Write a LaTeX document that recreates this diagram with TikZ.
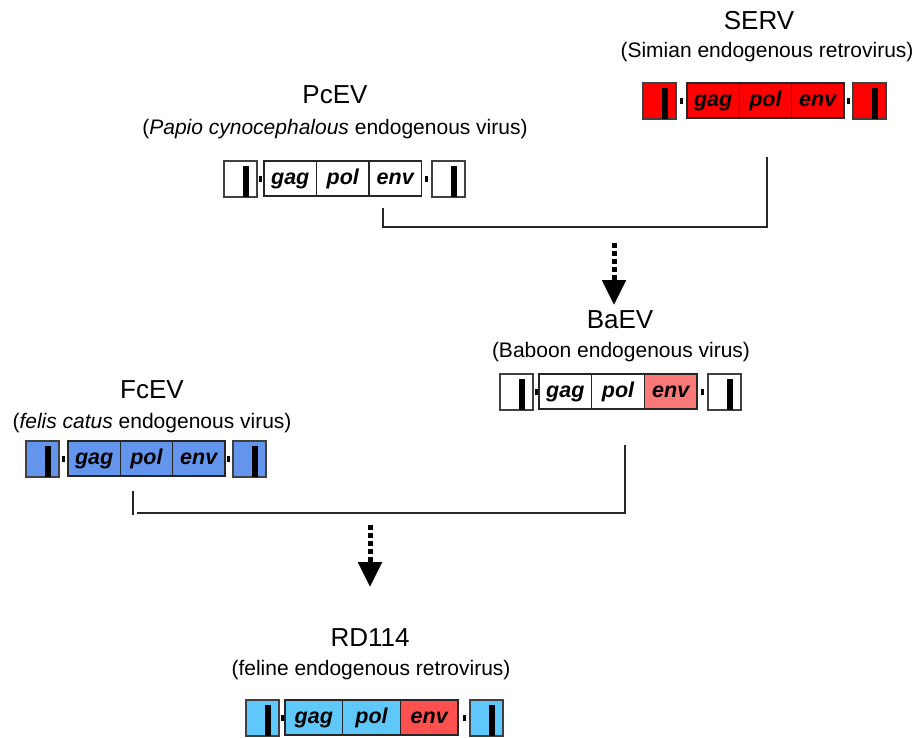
\documentclass[tikz,border=0pt]{standalone}
\usepackage{fontspec}
\setmainfont{Liberation Sans}
\usetikzlibrary{calc,arrows.meta}
\definecolor{servred}{HTML}{FF0000}
\definecolor{baenv}{HTML}{FA7878}
\definecolor{fcblue}{HTML}{6495ED}
\definecolor{rdblue}{HTML}{5EC8FA}
\definecolor{rdenv}{HTML}{FF5050}
\tikzset{
  ltrbox/.style={draw=black!75, line width=1.4pt, minimum width=33pt, minimum height=36pt, inner sep=0pt, outer sep=0pt, anchor=north west},
  cell/.style={draw=black!85, line width=1.4pt, minimum height=35pt, inner sep=0pt, outer sep=0pt, anchor=north west,
     font=\fontsize{21.5pt}{24pt}\selectfont\bfseries\itshape, text height=11pt, text depth=0pt},
  title/.style={anchor=base, inner sep=0pt, font=\fontsize{26pt}{29pt}\selectfont},
  subtitle/.style={anchor=base, inner sep=0pt, font=\fontsize{21pt}{24pt}\selectfont},
  bracket/.style={line width=1.8pt, draw=black!85},
  dotarrow/.style={line width=5pt, dash pattern=on 5pt off 3pt, -{Triangle[width=23pt,length=25pt]}}
}
% #1 name, #2 left box x, #3 top y, #4 main x, #5 cell width, #6 right box x, #7 ltr fill, #8 gag/pol fill, #9 env fill
\newcommand{\genome}[9]{%
  \node[ltrbox, fill=#7] (#1L) at (#2,#3) {};
  \node[cell, fill=#8, minimum width=#5pt] (#1gag) at (#4,#3) {gag};
  \node[cell, fill=#8, minimum width=#5pt] (#1pol) at (#1gag.north east) {pol};
  \node[cell, fill=#9, minimum width=#5pt] (#1env) at (#1pol.north east) {env};
  \node[ltrbox, fill=#7] (#1R) at (#6,#3) {};
  \fill ([xshift=19pt,yshift=-5pt]#1L.north west) rectangle ([xshift=24.5pt]#1L.south west);
  \fill ([xshift=19pt,yshift=-5pt]#1R.north west) rectangle ([xshift=24.5pt]#1R.south west);
  \fill ($(#1L.east)!0.5!(#1gag.west)$) +(-1.5,-3) rectangle +(1.5,3);
  \fill ($(#1env.east)!0.5!(#1R.west)$) +(-1.5,-3) rectangle +(1.5,3);
}
\begin{document}
\begin{tikzpicture}[x=1pt,y=-1pt]
\useasboundingbox (0,0) rectangle (918,737);

% SERV
\node[title] (servT) at (759,29) {SERV};
\node[subtitle] (servS) at (767,57) {(Simian endogenous retrovirus)};
\genome{serv}{643}{83}{687}{52.3}{853}{servred}{servred}{servred}

% PcEV
\node[title] (pcT) at (335,103) {PcEV};
\node[subtitle] (pcS) at (335,134) {(\textit{Papio cynocephalous} endogenous virus)};
\genome{pc}{224}{161}{264}{52.5}{432}{white}{white}{white}

% BaEV
\node[title] (baT) at (620,328) {BaEV};
\node[subtitle] (baS) at (621,357) {(Baboon endogenous virus)};
\genome{ba}{500}{374}{539}{52.7}{708}{white}{white}{baenv}

% FcEV
\node[title] (fcT) at (152,398) {FcEV};
\node[subtitle] (fcS) at (152,428) {(\textit{felis catus} endogenous virus)};
\genome{fc}{26}{441}{68}{52.3}{233}{fcblue}{fcblue}{fcblue}

% RD114
\node[title] (rdT) at (370,646) {RD114};
\node[subtitle] (rdS) at (371,675) {(feline endogenous retrovirus)};
\genome{rd}{246}{700}{285}{57.7}{470}{rdblue}{rdblue}{rdenv}

% upper bracket
\coordinate (pcDown) at (383,208);
\coordinate (servDown) at (767,157);
\draw[bracket] (pcDown) |- (767,227) -- (servDown);

% lower bracket
\coordinate (fcDownA) at (133,491);
\coordinate (fcDownB) at (133,515);
\coordinate (fcBr) at (137,513);
\coordinate (baDown) at (625,445);
\draw[bracket] (fcDownA) -- (fcDownB);
\draw[bracket] (fcBr) -| (baDown);

% arrows
\coordinate (ar1s) at (614,243);
\coordinate (ar1e) at (614,305);
\draw[dotarrow] (ar1s) -- (ar1e);
\coordinate (ar2s) at (370,525);
\coordinate (ar2e) at (370,587);
\draw[dotarrow] (ar2s) -- (ar2e);
\end{tikzpicture}
\end{document}
